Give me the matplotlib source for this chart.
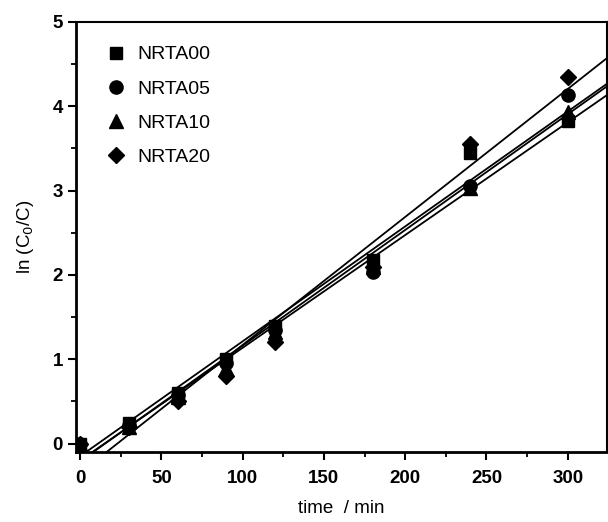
import numpy as np
import matplotlib
matplotlib.use("Agg")
import matplotlib.pyplot as plt

plt.rcParams['font.family'] = ['Liberation Sans', 'DejaVu Sans']

t = [0, 30, 60, 90, 120, 180, 240, 300]
series_names = ["NRTA00", "NRTA05", "NRTA10", "NRTA20"]
nrta00 = [0.0, 0.25, 0.60, 1.00, 1.40, 2.18, 3.45, 3.82]
nrta05 = [0.0, 0.22, 0.58, 0.95, 1.35, 2.03, 3.05, 4.13]
nrta10 = [0.0, 0.20, 0.55, 0.90, 1.32, 2.10, 3.03, 3.93]
nrta20 = [0.0, 0.20, 0.50, 0.80, 1.20, 2.10, 3.55, 4.35]
markers = ["s", "o", "^", "D"]
msizes = [9, 9.5, 10, 8.5]

fig = plt.figure(figsize=(6.08, 5.22), dpi=100)
ax = fig.add_axes([0.125, 0.134, 0.873, 0.824])

xlim = (-2.5, 324)
ylim = (-0.1, 5)
xs = np.array(xlim)
handles = []
for name, ys, m, ms in zip(series_names, [nrta00, nrta05, nrta10, nrta20], markers, msizes):
    k, b = np.polyfit(t, ys, 1)
    ax.plot(xs, k * xs + b, color='black', lw=1.3, zorder=2)
    h, = ax.plot(t, ys, linestyle='none', marker=m, ms=ms, color='black', zorder=3, label=name)
    handles.append(h)

ax.set_xlim(*xlim)
ax.set_ylim(*ylim)
ax.set_xticks([0, 50, 100, 150, 200, 250, 300])
ax.set_xticks(np.arange(25, 325, 50), minor=True)
ax.set_yticks([0, 1, 2, 3, 4, 5])
ax.set_yticks(np.arange(0.5, 5, 1.0), minor=True)
ax.tick_params(which='major', direction='out', length=6, width=1.5, labelsize=13.5)
ax.tick_params(which='minor', direction='out', length=3.5, width=1.3)
ax.tick_params(axis='x', which='major', pad=7)
for lab in ax.get_xticklabels() + ax.get_yticklabels():
    lab.set_fontweight('bold')

for s in ['left', 'bottom']:
    ax.spines[s].set_linewidth(2)
for s in ['top', 'right']:
    ax.spines[s].set_linewidth(1.5)

ax.set_xlabel("time  / min", fontsize=13.5, labelpad=9)
ax.set_ylabel("ln (C$_0$/C)", fontsize=13.5, labelpad=12)

ax.legend(handles=handles, loc='upper left', bbox_to_anchor=(0.02, 0.985), frameon=False,
          fontsize=14, labelspacing=0.85, handletextpad=0.5, handlelength=1.2)

fig.savefig("out.png", dpi=100)
